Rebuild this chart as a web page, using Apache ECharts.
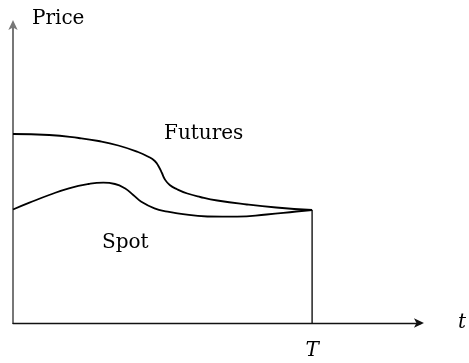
<!DOCTYPE html>
<html>
<head>
<meta charset="utf-8">
<script src="https://cdn.jsdelivr.net/npm/echarts@6/dist/echarts.min.js"></script>
<style>
  html, body { margin: 0; padding: 0; background: #fff; }
  #chart { width: 469px; height: 363px; }
</style>
</head>
<body>
<div id="chart"></div>
<script>
// time in units where T = 10, price in arbitrary units
const futuresT = [0, 1.21, 2.2, 2.86, 3.52, 4.18, 4.51, 4.74, 4.88, 4.98, 5.07, 5.24, 5.5, 5.83, 6.26, 6.83, 7.82, 8.8, 10];
const futuresP = [18.9, 18.8, 18.5, 18.2, 17.75, 17.1, 16.65, 16.2, 15.6, 15.0, 14.4, 13.8, 13.35, 12.95, 12.6, 12.25, 11.85, 11.55, 11.3];
const spotT = [0, 0.55, 1.21, 1.87, 2.53, 3.02, 3.41, 3.74, 4.02, 4.29, 4.73, 5.17, 5.5, 6.5, 7.49, 8.48, 9.47, 10];
const spotP = [11.35, 12.03, 12.8, 13.47, 13.9, 14.03, 13.9, 13.47, 12.8, 12.13, 11.47, 11.13, 10.97, 10.65, 10.63, 10.85, 11.15, 11.3];
const expiryT = 10;
const tickLabels = { 10: "T" };

const serif = "DejaVu Serif";
const zip = (xs, ys) => xs.map((x, i) => [x, ys[i]]);
const label = (text, left, top) => ({
    type: "text", left, top,
    style: { text, fontFamily: serif, fontSize: 20, fill: "#000" }
});

const chart = echarts.init(document.getElementById("chart"));
chart.setOption({
    animation: false,
    grid: { left: 13, right: 43, top: 23, bottom: 40 },
    xAxis: {
        type: "value",
        min: 0,
        max: 13.64,
        interval: 10,
        name: "t",
        nameLocation: "end",
        nameGap: 37,
        nameTextStyle: { fontFamily: serif, fontSize: 20, fontStyle: "italic", color: "#000" },
        axisLine: {
            lineStyle: { color: "#111", width: 1.3 },
            symbol: ["none", "arrow"],
            symbolSize: [7, 10],
            symbolOffset: [0, 3]
        },
        axisTick: { show: false },
        splitLine: { show: false },
        axisLabel: {
            margin: 18,
            fontFamily: serif,
            fontSize: 20,
            fontStyle: "italic",
            color: "#000",
            showMaxLabel: false,
            formatter: v => tickLabels[v] || ""
        }
    },
    yAxis: {
        type: "value",
        min: 0,
        max: 30,
        axisLine: {
            lineStyle: { color: "#777", width: 2 },
            symbol: ["none", "arrow"],
            symbolSize: [7, 10],
            symbolOffset: [0, 3]
        },
        axisTick: { show: false },
        splitLine: { show: false },
        axisLabel: { show: false }
    },
    graphic: [
        label("Price", 32, 9),
        label("Futures", 164, 124),
        label("Spot", 102, 233)
    ],
    series: [
        {
            name: "Futures",
            type: "line",
            data: zip(futuresT, futuresP),
            smooth: 0.5,
            showSymbol: false,
            lineStyle: { color: "#000", width: 1.8 }
        },
        {
            name: "Spot",
            type: "line",
            data: zip(spotT, spotP),
            smooth: 0.5,
            showSymbol: false,
            lineStyle: { color: "#000", width: 1.8 }
        },
        {
            name: "Expiry",
            type: "line",
            data: [[expiryT, spotP[spotP.length - 1]], [expiryT, 0]],
            showSymbol: false,
            lineStyle: { color: "#000", width: 1.3 }
        }
    ]
});
</script>
</body>
</html>
